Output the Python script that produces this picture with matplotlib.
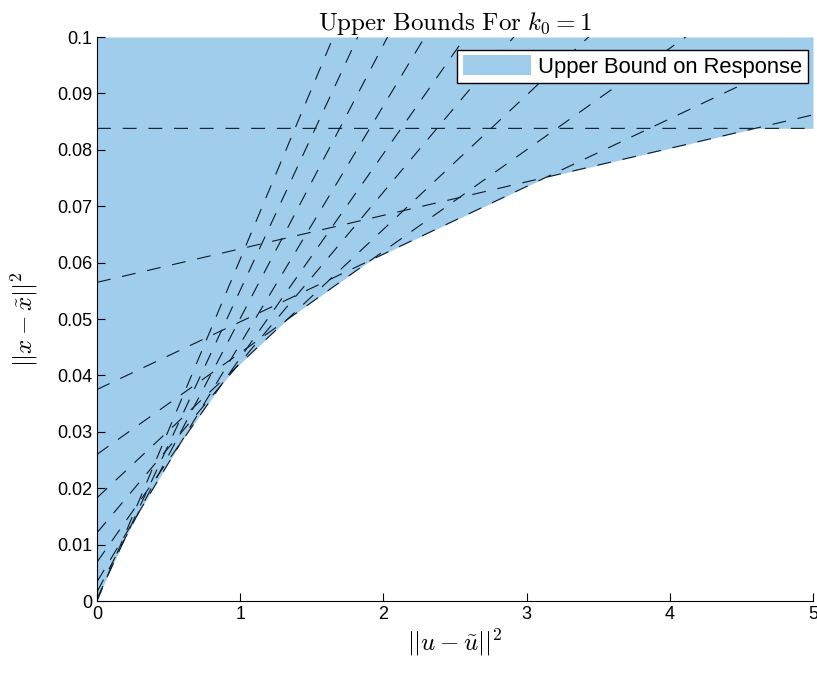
import numpy as np
import matplotlib
matplotlib.use("Agg")
import matplotlib.pyplot as plt

plt.rcParams['mathtext.fontset'] = 'cm'
plt.rcParams['font.family'] = ['Liberation Sans', 'DejaVu Sans']
plt.rcParams['lines.scale_dashes'] = False

# bound lines y = intercept + slope * x
intercepts = [0.0838, 0.0565, 0.0375, 0.0260, 0.0183, 0.0121, 0.0069, 0.0034, 0.0016, 0.0004, 0.0]
slopes = [0.0, 0.00594, 0.0120, 0.0180, 0.0238, 0.0302, 0.0362, 0.0422, 0.0485, 0.0547, 0.0606]

x_ticks = [0, 1, 2, 3, 4, 5]
y_ticks = [0, 0.01, 0.02, 0.03, 0.04, 0.05, 0.06, 0.07, 0.08, 0.09, 0.1]
y_ticklabels = ['0', '0.01', '0.02', '0.03', '0.04', '0.05', '0.06', '0.07', '0.08', '0.09', '0.1']

fill_color = '#9fcdeb'

fig = plt.figure(figsize=(8.17, 6.75), dpi=100)
ax = fig.add_axes([97 / 817, 74 / 675, 716 / 817, 564 / 675])

x = np.linspace(0, 5, 2001)
lines = np.array([b + m * x for b, m in zip(intercepts, slopes)])
envelope = lines.min(axis=0)

ax.fill_between(x, envelope, 0.1, color=fill_color, linewidth=0,
                label='Upper Bound on Response')
for y in lines:
    ax.plot(x, y, color='#0a1a2a', linewidth=0.8, linestyle=(0, (10, 8.5)))

ax.set_xlim(0, 5)
ax.set_ylim(0, 0.1)
ax.set_xticks(x_ticks)
ax.set_yticks(y_ticks)
ax.set_yticklabels(y_ticklabels)
ax.tick_params(direction='in', labelsize=13, length=6, width=0.8)
ax.spines['top'].set_visible(False)
ax.spines['right'].set_visible(False)

ax.set_title(r'$\mathrm{Upper\ Bounds\ For\ }k_0=1$', fontsize=18, pad=5)
ax.set_xlabel(r'$||u-\tilde{u}||^2$', fontsize=18, labelpad=3)
ax.set_ylabel(r'$||x-\tilde{x}||^2$', fontsize=18, labelpad=12)

leg = ax.legend(loc='upper right', bbox_to_anchor=(0.993, 0.977), fancybox=False,
                framealpha=1, fontsize=15.8, edgecolor='black', borderaxespad=0,
                handlelength=3.1, handleheight=1.0, handletextpad=0.35, borderpad=0.25)
leg.get_frame().set_linewidth(1.0)

fig.savefig('out.png', dpi=100)
